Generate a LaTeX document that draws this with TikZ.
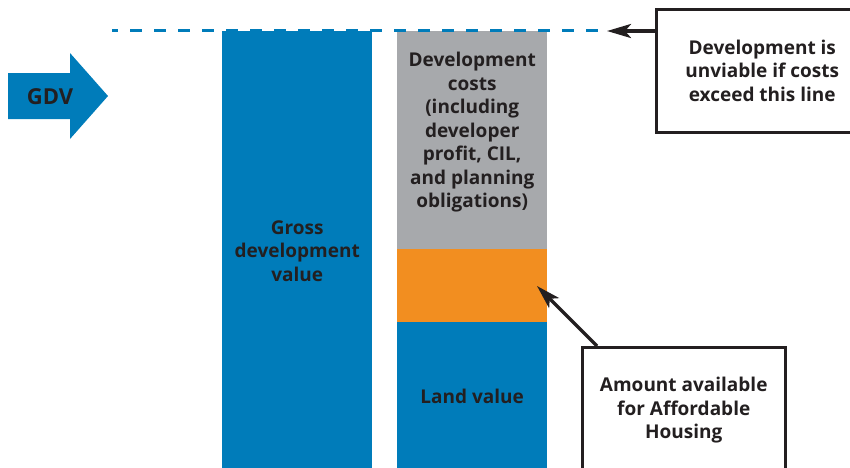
\documentclass[tikz,border=0pt]{standalone}
\usepackage{fontspec}
\setmainfont{Open Sans}
\usepackage{tikz}
\usetikzlibrary{arrows.meta, positioning}
\definecolor{gdvblue}{RGB}{0,124,186}
\definecolor{costgrey}{RGB}{167,169,172}
\definecolor{ahorange}{RGB}{242,142,32}
\definecolor{inkdark}{RGB}{35,31,32}
\newcommand{\bodyfont}{\fontsize{19}{23.5}\selectfont\bfseries}
\tikzset{
    bar/.style={rectangle, inner sep=0pt, minimum width=150pt, text=inkdark, font=\bodyfont, align=center},
    callout/.style={rectangle, draw=inkdark, line width=2.5pt, fill=white, text=inkdark, font=\bodyfont, align=center},
    pointer/.style={line width=3.5pt, draw=inkdark, -{Stealth[length=24pt, width=14pt, inset=6pt]}},
}

\begin{document}
\begin{tikzpicture}[x=1pt, y=-1pt]
    \useasboundingbox (0,0) rectangle (850,467);

    \fill [gdvblue] (8,73) -- (70,73) -- (70,53) -- (108,96) -- (70,139) -- (70,119) -- (8,119) -- cycle;
    \node [text=inkdark, font=\fontsize{22}{26}\selectfont\bfseries] (gdv) at (50,97) {GDV};

    \node [bar, fill=gdvblue, minimum height=440pt, anchor=north west] (gross) at (222,31) {Gross\\development\\value};

    \node [bar, fill=costgrey, minimum height=218pt, anchor=north west] (costs) at (397,31) {};
    \node [text=inkdark, font=\bodyfont, align=center] (coststext) at ([yshift=8pt]costs.center)
        {Development\\costs\\(including\\developer\\profit, CIL,\\and planning\\obligations)};
    \node [bar, fill=ahorange, minimum height=72.5pt, below=-0.5pt of costs] (affordable) {};
    \node [bar, fill=gdvblue, minimum height=150pt, below=-0.5pt of affordable] (land) {Land value};

    \coordinate (lineleft) at (112,30);
    \coordinate (lineright) at (599,30);
    \coordinate (cutoff) at (607,31);
    \draw [gdvblue, line width=3pt, dash pattern=on 12pt off 12pt, dash phase=6pt] (lineleft) -- (lineright);

    \node [callout, minimum width=212pt, minimum height=123pt, anchor=north west] (unviable) at (655,8)
        {Development is\\unviable if costs\\exceed this line};
    \node [callout, minimum width=203pt, minimum height=126pt, anchor=north west] (housing) at (581,346)
        {Amount available\\for Affordable\\Housing};

    \coordinate (housingtip) at (537,286);
    \draw [pointer] ([yshift=-23pt]unviable.north west) -- (cutoff);
    \draw [pointer] ([xshift=16pt]housing.north west) -- (housingtip);
\end{tikzpicture}
\end{document}
